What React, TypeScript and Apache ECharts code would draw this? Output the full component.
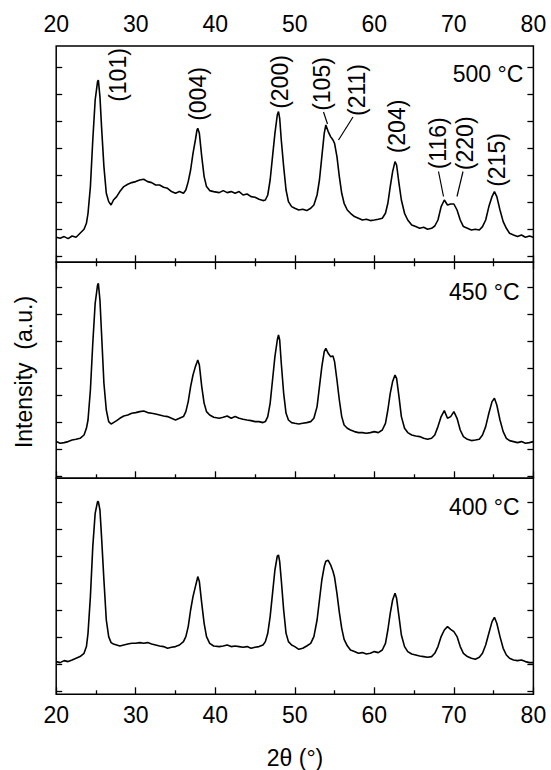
import React, { useEffect, useRef } from "react";
import * as echarts from "echarts";

// 2θ sampling points (degrees), shared by the three patterns
const twoTheta = [
  20, 20.5, 21, 21.5, 22, 22.5, 23, 23.5, 23.8, 24.0,
  24.3, 24.6, 24.9, 25.2, 25.3, 25.5, 25.7, 26.0, 26.3, 26.6,
  26.9, 27.2, 27.6, 28.0, 28.5, 29, 29.5, 30, 30.5, 31,
  31.5, 32, 32.5, 33, 33.5, 34, 34.5, 35, 35.5, 36,
  36.3, 36.6, 36.9, 37.2, 37.5, 37.7, 37.8, 38.0, 38.3, 38.6,
  38.9, 39.3, 39.8, 40.5, 41, 41.5, 42, 42.5, 43, 43.5,
  44, 44.5, 45, 45.5, 46, 46.3, 46.6, 46.9, 47.2, 47.5,
  47.8, 47.95, 48.1, 48.3, 48.6, 48.9, 49.2, 49.6, 50, 50.5,
  51, 51.5, 52, 52.4, 52.8, 53.1, 53.4, 53.7, 53.9, 54.2,
  54.5, 54.8, 55.0, 55.3, 55.6, 55.9, 56.2, 56.6, 57, 57.5,
  58, 58.5, 59, 59.5, 60, 60.5, 61, 61.4, 61.7, 62.0,
  62.3, 62.6, 62.8, 63.1, 63.4, 63.8, 64.2, 64.7, 65.2, 65.7,
  66.2, 66.7, 67.2, 67.6, 68.0, 68.4, 68.8, 69.2, 69.6, 70.0,
  70.4, 70.8, 71.2, 71.7, 72.2, 72.7, 73.2, 73.6, 74.0, 74.4,
  74.8, 75.1, 75.4, 75.8, 76.2, 76.6, 77.0, 77.5, 78, 78.5,
  79, 79.5, 80,
];

// Intensity (a.u.) of the film annealed at 500 °C
const intensity500 = [
  25, 24, 25.7, 23.7, 26.3, 25, 29, 33, 39, 49,
  75.7, 122.3, 162.3, 180.7, 182.3, 165.7, 135.7, 95.7, 69, 60.7,
  57.3, 62.3, 65.7, 70.7, 75.7, 78, 79.7, 80.7, 82.3, 83,
  80.7, 79.7, 77.3, 77.3, 75, 74, 70.7, 69, 70.7, 69,
  72.3, 80.7, 92.3, 109, 122.3, 132.3, 134, 129, 105.7, 85.7,
  75.7, 71.7, 70.7, 69.7, 71.7, 69.7, 70.7, 69, 70.7, 67.3,
  68.3, 65.7, 65, 63, 61.7, 62.3, 67.3, 82.3, 105.7, 129,
  147.3, 150.7, 144, 122.3, 95.7, 72.3, 60.7, 55.7, 54, 52.3,
  53, 51.7, 54, 57.3, 67.3, 82.3, 105.7, 129, 137.3, 130.7,
  125.7, 122.3, 119, 105.7, 85.7, 69, 59, 52.3, 49, 45.7,
  44, 42.3, 43, 41.7, 42.3, 43, 44, 49, 59, 75.7,
  90.7, 100.7, 97.3, 79, 62.3, 49, 42.3, 37.3, 35.7, 34,
  35, 33, 34, 36.3, 42.3, 55.7, 62.3, 57.3, 58.3, 58.3,
  52.3, 42.3, 35.7, 34, 32.3, 33, 32.3, 35.7, 42.3, 55.7,
  65.7, 70.7, 65.7, 52.3, 40.7, 34, 29, 27.3, 25.7, 27.3,
  25, 26.3, 25,
];

// Intensity (a.u.) of the film annealed at 450 °C
const intensity450 = [
  36.7, 35, 35.7, 36.7, 38.3, 39, 40, 43.3, 50, 58.3,
  88.3, 135, 175, 193.3, 195, 178.3, 145, 95, 68.3, 56.7,
  54.3, 55.7, 57.7, 60, 62.3, 63.3, 65, 65.7, 66.7, 67.3,
  65.7, 65, 64.3, 63.3, 62.3, 61.7, 60, 58.3, 60, 61.7,
  66.7, 76.7, 91.7, 103.3, 111.7, 116, 118.3, 113.3, 91.7, 75,
  66.7, 63.3, 61, 60, 61, 62.3, 60, 61.7, 60, 59,
  58.3, 57.7, 56.7, 56.7, 55.7, 56.7, 61.7, 75, 98.3, 121.7,
  138.3, 143.3, 138.3, 115, 85, 65, 58.3, 55.7, 55, 54.3,
  55, 55.7, 56.7, 60, 71.7, 91.7, 111.7, 126.7, 130, 125,
  121.7, 122.3, 116.7, 98.3, 78.3, 61.7, 53.3, 50, 48.3, 46.7,
  45.7, 45.7, 45, 45.7, 46.7, 45.7, 48.3, 55, 68.3, 85,
  96.7, 103.3, 100, 81.7, 61.7, 50, 45.7, 43.3, 42.3, 41.7,
  40, 39, 40, 43.3, 51.7, 61.7, 67.7, 60, 61.7, 66.7,
  60, 48.3, 41.7, 39, 37.7, 38.3, 39, 43.3, 51.7, 65,
  76.7, 80, 73.3, 58.3, 46.7, 40, 37.7, 36.7, 35.7, 36.7,
  35, 35.7, 36.7,
];

// Intensity (a.u.) of the film annealed at 400 °C
const intensity400 = [
  32.7, 31.7, 33.7, 32.7, 34.3, 36, 37.7, 41, 47.7, 61,
  97.7, 147.7, 181, 192.7, 192.7, 184.3, 157.7, 114.3, 74.3, 57.7,
  51.7, 50.3, 49.3, 48.3, 49.3, 50.3, 51, 51, 51.7, 51,
  51.7, 50.3, 49.3, 48.3, 47.7, 46, 47, 47.7, 49.3, 52.7,
  57.7, 67.7, 84.3, 97.7, 107.7, 114, 117.7, 112.7, 91, 71,
  57.7, 51, 48.3, 47.7, 48.3, 49.3, 47.7, 48.3, 47.7, 47,
  47.7, 46, 47, 47.7, 49.3, 52.7, 61, 77.7, 101, 124.3,
  138.3, 139.3, 132.7, 114.3, 84.3, 61, 52.7, 49.3, 47.7, 45,
  46, 48.3, 51, 57.7, 74.3, 94.3, 114.3, 127.7, 133, 134,
  129.5, 123, 117, 101, 82, 66, 55, 48.5, 44.3, 42.7,
  41, 41.7, 40.3, 41, 42.7, 41.7, 44.3, 51, 64.3, 81,
  94.3, 101, 96, 77.7, 59.3, 47.7, 42.7, 40.3, 39.3, 38.3,
  37.7, 37, 37.7, 41, 47.7, 57.7, 64.3, 67.7, 65, 62.7,
  57.7, 47.7, 41, 37.7, 36, 35, 37, 41, 49.3, 61,
  72.7, 77, 71, 57.7, 46, 39.3, 36, 34.3, 33.7, 34.3,
  32.7, 31.7, 31.7,
];

const panelLabels = ["500 °C", "450 °C", "400 °C"];
const peakLabels = ["(101)", "(004)", "(200)", "(105)", "(211)", "(204)", "(116)", "(220)", "(215)"];
const xTitle = "2θ (°)";
const yTitle = "Intensity  (a.u.)";

const FONT = "'Liberation Sans', Arial, Helvetica, sans-serif";
const FS = 23;

function pairs(ys: number[]) {
  return twoTheta.map((t, i) => [t, ys[i]]);
}

export default function App() {
  const ref = useRef<HTMLDivElement>(null);
  useEffect(() => {
    if (!ref.current) return;
    const chart = echarts.init(ref.current, undefined, { renderer: "svg" });

    const L = 56.2;
    const W = 477.2;
    const grids = [
      { top: 46, height: 216.3 },
      { top: 262.3, height: 216 },
      { top: 478.3, height: 216 },
    ];
    const tickOffsets = [5.6, 2, 2.6];
    const tickStep = 27;

    const lineStyle = { color: "#000", width: 1.3 };
    const xBase = (gridIndex: number, position: string, showLabel: boolean, margin = 9) => ({
      type: "value",
      gridIndex,
      position,
      min: 20,
      max: 80,
      interval: 10,
      axisLine: { show: false },
      splitLine: { show: false },
      axisTick: { show: true, inside: true, length: 7, lineStyle },
      minorTick: { show: true, splitNumber: 2, length: 4, lineStyle },
      minorSplitLine: { show: false },
      axisLabel: {
        show: showLabel,
        margin,
        color: "#000",
        fontSize: FS,
        fontFamily: FONT,
      },
    });
    const yBase = (gridIndex: number, position: string, i: number) => {
      const h = grids[i].height;
      const vals: number[] = [];
      for (let v = tickOffsets[i]; v < h - 1; v += tickStep) vals.push(v);
      return {
        type: "value",
        gridIndex,
        position,
        min: 0,
        max: h,
        axisLine: { show: false },
        splitLine: { show: false },
        axisLabel: { show: false },
        axisTick: { show: true, inside: true, length: 6, lineStyle, customValues: vals },
      };
    };

    const txt = (text: string, x: number, y: number, align: string, rot = 0) => ({
      type: "text",
      x,
      y,
      rotation: rot,
      style: {
        text,
        fill: "#000",
        fontSize: FS,
        fontFamily: FONT,
        align,
        textAlign: align,
        verticalAlign: "middle",
        textVerticalAlign: "middle",
      },
    });
    const seg = (x1: number, y1: number, x2: number, y2: number) => ({
      type: "line",
      shape: { x1, y1, x2, y2 },
      style: { stroke: "#000", lineWidth: 1.2 },
    });

    const peakPos = [
      [118, 75], [197.5, 94], [280, 82], [321.7, 84], [356.7, 90],
      [396.8, 126.5], [438, 143.3], [465, 143.3], [497, 160],
    ];

    const option = {
      animation: false,
      backgroundColor: "#fff",
      grid: grids.map((g) => ({
        left: L,
        width: W,
        top: g.top,
        height: g.height,
        show: true,
        borderColor: "#000",
        borderWidth: 1.5,
        backgroundColor: "transparent",
      })),
      xAxis: [
        xBase(0, "bottom", false),
        xBase(0, "top", true, 11),
        xBase(1, "bottom", false),
        xBase(2, "bottom", true, 9),
      ],
      yAxis: [
        yBase(0, "left", 0),
        yBase(0, "right", 0),
        yBase(1, "left", 1),
        yBase(1, "right", 1),
        yBase(2, "left", 2),
        yBase(2, "right", 2),
      ],
      series: [
        { type: "line", name: panelLabels[0], xAxisIndex: 0, yAxisIndex: 0, data: pairs(intensity500) },
        { type: "line", name: panelLabels[1], xAxisIndex: 2, yAxisIndex: 2, data: pairs(intensity450) },
        { type: "line", name: panelLabels[2], xAxisIndex: 3, yAxisIndex: 4, data: pairs(intensity400) },
      ].map((s) => ({
        ...s,
        showSymbol: false,
        symbol: "none",
        lineStyle: { color: "#000", width: 1.6 },
        silent: true,
      })),
      graphic: [
        txt(panelLabels[0], 523.3, 73.7, "right"),
        txt(panelLabels[1], 519.5, 291.7, "right"),
        txt(panelLabels[2], 519.5, 506.7, "right"),
        ...peakLabels.map((p, i) => txt(p, peakPos[i][0], peakPos[i][1], "center", Math.PI / 2)),
        seg(323.5, 112, 327.5, 124),
        seg(353, 117, 338.5, 140),
        seg(438.5, 171.5, 443.5, 196.5),
        seg(463, 171.5, 457, 196.5),
        txt(xTitle, 295, 758, "center"),
        txt(yTitle, 23.5, 372, "center", Math.PI / 2),
      ],
    };
    chart.setOption(option as any);
    return () => chart.dispose();
  }, []);
  return (
    <div
      ref={ref}
      style={{ position: "absolute", left: 0, top: 0, width: 551, height: 770, background: "#fff" }}
    />
  );
}
